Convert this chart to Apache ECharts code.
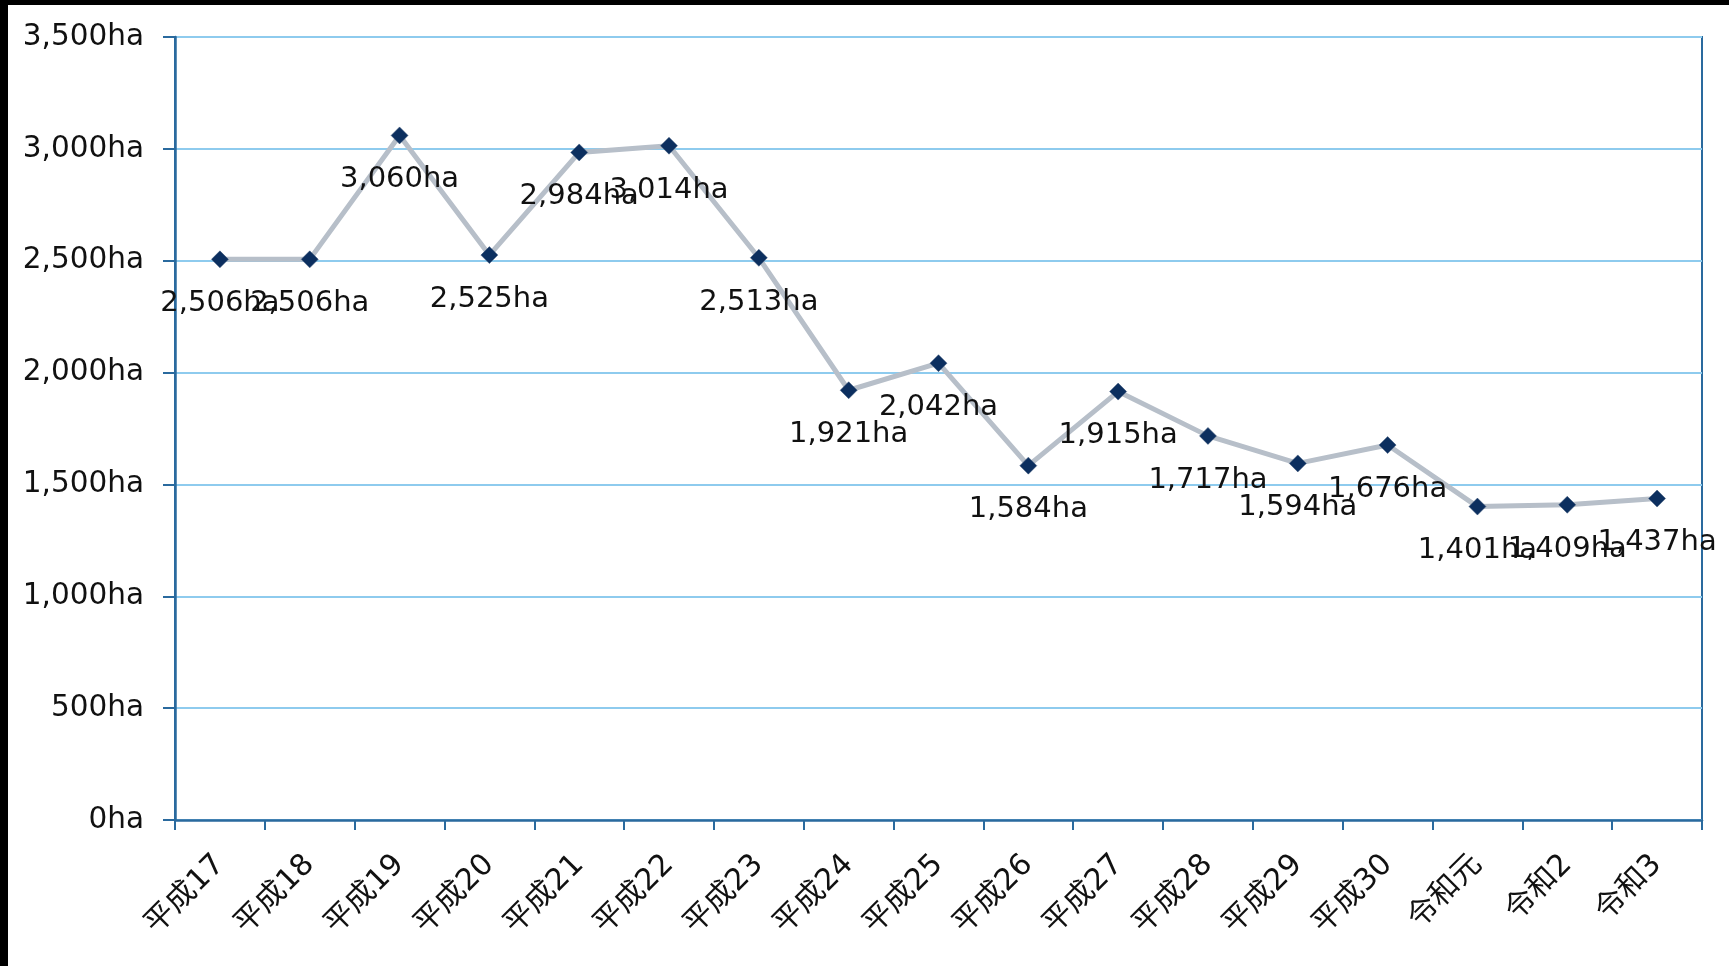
<!DOCTYPE html>
<html>
<head>
<meta charset="utf-8">
<script src="https://cdn.jsdelivr.net/npm/echarts@6/dist/echarts.min.js"></script>
<style>
  html, body { margin: 0; padding: 0; background: #000; }
  #chart { position: absolute; left: 8px; top: 5px; width: 1721px; height: 961px; background: #fff; }
</style>
</head>
<body>
<div id="chart"></div>
<script>
// Fiscal years (Heisei 17 to Reiwa 3)
const years = ['平成17', '平成18', '平成19', '平成20', '平成21', '平成22', '平成23', '平成24',
  '平成25', '平成26', '平成27', '平成28', '平成29', '平成30', '令和元', '令和2', '令和3'];
// Area in hectares
const areaHa = [2506, 2506, 3060, 2525, 2984, 3014, 2513, 1921, 2042, 1584, 1915, 1717, 1594, 1676, 1401, 1409, 1437];
// Value axis range
const yMin = 0;
const yMax = 3500;
const yStep = 500;

const fontLatin = '"DejaVu Sans", "Noto Sans CJK JP", sans-serif';
const fmtHa = v => Number(v).toLocaleString('en-US') + 'ha';

const chart = echarts.init(document.getElementById('chart'));
chart.setOption({
  animation: false,
  backgroundColor: '#ffffff',
  grid: {
    left: 167, top: 32, right: 27, bottom: 146,
    show: true, borderColor: '#2a6a9e', borderWidth: 2, backgroundColor: 'transparent'
  },
  xAxis: {
    type: 'category',
    data: years,
    boundaryGap: true,
    axisLine: { lineStyle: { color: '#2a6a9e', width: 2.5 } },
    axisTick: { show: true, length: 10, alignWithLabel: false, lineStyle: { color: '#2a6a9e', width: 2 } },
    axisLabel: {
      rotate: 45, margin: 40, color: '#111',
      fontSize: 30, fontFamily: fontLatin, interval: 0
    }
  },
  yAxis: {
    type: 'value',
    min: yMin, max: yMax, interval: yStep,
    axisLine: { show: true, lineStyle: { color: '#2a6a9e', width: 2.5 } },
    axisTick: { show: true, length: 12, lineStyle: { color: '#2a6a9e', width: 2 } },
    axisLabel: {
      margin: 31, color: '#111', fontSize: 29.5, fontFamily: fontLatin,
      padding: [4, 0, 0, 0], formatter: fmtHa
    },
    splitLine: { lineStyle: { color: '#8ecbee', width: 2 } }
  },
  series: [{
    type: 'line',
    data: areaHa,
    symbol: 'diamond',
    symbolSize: 17,
    itemStyle: { color: '#0c2f5f', borderColor: '#3a5578', borderWidth: 0.5 },
    lineStyle: { color: '#b7bfc9', width: 5 },
    label: {
      show: true, position: 'bottom', distance: 21,
      color: '#111', fontSize: 29, fontFamily: fontLatin,
      formatter: p => fmtHa(p.value)
    },
    labelLayout: { hideOverlap: false },
    z: 3
  }]
});
</script>
</body>
</html>
